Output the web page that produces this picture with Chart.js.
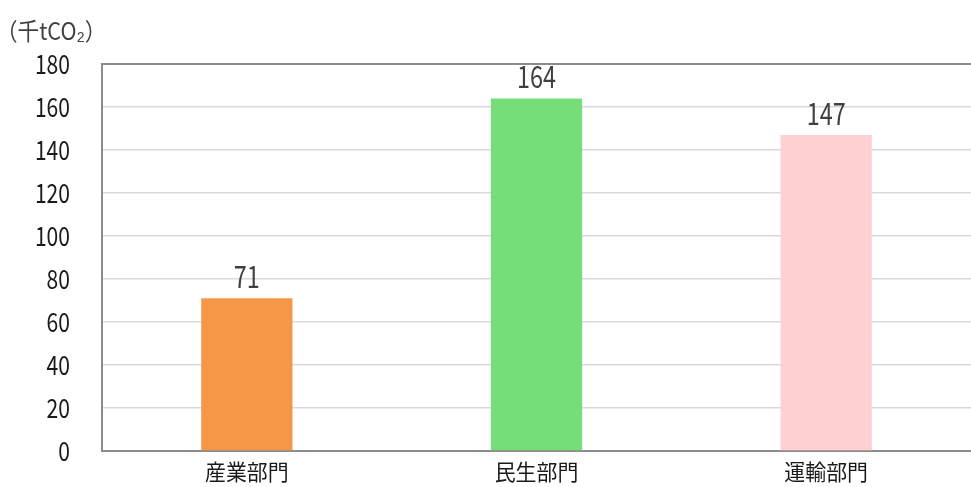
<!DOCTYPE html>
<html>
<head>
<meta charset="utf-8">
<script src="https://cdn.jsdelivr.net/npm/chart.js@4"></script>
<style>
  html, body { margin: 0; padding: 0; background: #fff; }
  #wrap { width: 971px; height: 487px; }
</style>
</head>
<body>
<div id="wrap"><canvas id="graph"></canvas></div>
<script>
const sectors = ['産業部門', '民生部門', '運輸部門'];
const emissions = [71, 164, 147];
const barColors = ['rgb(246,151,72)', 'rgb(118,222,120)', 'rgb(255,208,210)'];
const yTicks = [0, 20, 40, 60, 80, 100, 120, 140, 160, 180];
const unitText = '（千tCO₂）';

const fontFamily = '"Noto Sans CJK JP", sans-serif';

// narrow text: squeeze horizontally around the anchor point
const narrowText = (ctx, text, x, y, size, sx, align, color) => {
    ctx.save();
    ctx.font = size + 'px ' + fontFamily;
    ctx.fillStyle = color;
    ctx.textAlign = align;
    ctx.textBaseline = 'alphabetic';
    ctx.translate(x, y);
    ctx.scale(sx, 1);
    ctx.fillText(text, 0, 0);
    ctx.restore();
};

// tick labels, unit caption and values over the bars
const labelsPlugin = {
    id: 'labels',
    afterDraw(chart) {
        const ctx = chart.ctx;
        const xs = chart.scales.x;
        const ys = chart.scales.y;

        narrowText(ctx, unitText, -4, 40, 24, 0.9, 'left', '#404040');

        yTicks.forEach(v => {
            narrowText(ctx, String(v), 70, ys.getPixelForValue(v) + 10, 27, 0.78, 'right', '#1a1a1a');
        });

        sectors.forEach((s, i) => {
            narrowText(ctx, s, xs.getPixelForValue(i), 480, 22, 0.95, 'center', '#1a1a1a');
        });

        chart.getDatasetMeta(0).data.forEach((bar, i) => {
            narrowText(ctx, String(emissions[i]), bar.x, bar.y - 10, 30, 0.78, 'center', '#404040');
        });
    }
};

const graph = document.getElementById('graph');

new Chart(graph, {
    type: 'bar',
    data: {
        labels: sectors,
        datasets: [{
            data: emissions,
            backgroundColor: barColors,
            barPercentage: 0.63,
            categoryPercentage: 0.5
        }]
    },
    options: {
        responsive: true,
        maintainAspectRatio: false,
        animation: false,
        layout: { padding: { top: 64, right: 0, bottom: 0, left: 0 } },
        plugins: {
            legend: { display: false },
            tooltip: { enabled: false }
        },
        scales: {
            x: {
                grid: { display: false },
                border: { color: '#8c8c8c', width: 2 },
                ticks: { display: false },
                afterFit(scale) { scale.height = 36; }
            },
            y: {
                min: 0,
                max: 180,
                afterBuildTicks(scale) {
                    scale.ticks = yTicks.map(v => ({ value: v }));
                },
                grid: {
                    color: ctx => ctx.tick && ctx.tick.value === 180 ? '#8c8c8c' : '#d9d9d9',
                    lineWidth: ctx => ctx.tick && ctx.tick.value === 180 ? 2 : 1.5,
                    drawTicks: false
                },
                border: { color: '#8c8c8c', width: 2 },
                ticks: { display: false },
                afterFit(scale) { scale.width = 102; }
            }
        }
    },
    plugins: [labelsPlugin]
});
</script>
</body>
</html>
